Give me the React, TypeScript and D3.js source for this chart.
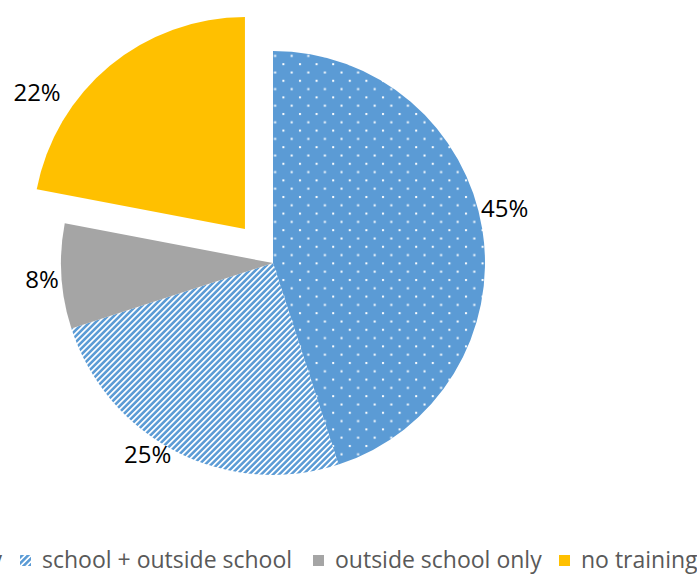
import React from "react";
import * as d3 from "d3";

const categories = ["school only", "school + outside school", "outside school only", "no training"];
const values = [45, 25, 8, 22];
const labels = ["45%", "25%", "8%", "22%"];

const W = 697;
const H = 575;
const CX = 273;
const CY = 263;
const R = 212;
const EXPLODE = [0, 0, 0, 44];
// label placement: angular shift (deg) from slice mid-angle and radius from slice centre
const LABEL_SHIFT = [-4.3, 6.2, -0.4, -17];
const LABEL_R = [238, 229, 231.5, 249];
const LEGEND_X = [-150, 20, 313, 559];

const fills = ["url(#dots)", "url(#stripes)", "#A5A5A5", "#FFC000"];
const BLUE = "#5B9BD5";
const FONT = "'Segoe UI', 'Open Sans', 'Noto Sans', sans-serif";

export default function App() {
  const pie = d3.pie<number>().sort(null).startAngle(0).endAngle(2 * Math.PI).value((d) => d);
  const arcs = pie(values);
  const arc = d3.arc<d3.PieArcDatum<number>>().innerRadius(0).outerRadius(R);

  return (
    <svg width={W} height={H} style={{ position: "absolute", left: 0, top: 0, fontFamily: FONT }}>
      <defs>
        <pattern id="dots" width={16.6} height={16.6} patternUnits="userSpaceOnUse" x={CX} y={CY}>
          <rect width={16.6} height={16.6} fill={BLUE} />
          <rect x={2} y={2} width={2} height={2} fill="#fff" />
          <rect x={10.3} y={10.3} width={2} height={2} fill="#fff" />
        </pattern>
        <pattern id="stripes" width={4.24} height={10} patternUnits="userSpaceOnUse" patternTransform="rotate(45)">
          <rect width={4.24} height={10} fill="#fff" />
          <rect width={2.5} height={10} fill={BLUE} />
        </pattern>
        <pattern id="dotsLeg" width={5} height={5} patternUnits="userSpaceOnUse">
          <rect width={5} height={5} fill={BLUE} />
          <rect x={1} y={1} width={1} height={1} fill="#fff" />
        </pattern>
        <pattern id="stripesLeg" width={4.24} height={10} patternUnits="userSpaceOnUse" patternTransform="rotate(45)">
          <rect width={4.24} height={10} fill="#fff" />
          <rect width={2.6} height={10} fill={BLUE} />
        </pattern>
      </defs>
      {arcs.map((a, i) => {
        const mid = (a.startAngle + a.endAngle) / 2;
        const ox = EXPLODE[i] * Math.sin(mid);
        const oy = -EXPLODE[i] * Math.cos(mid);
        return (
          <path key={i} d={arc(a) || ""} fill={fills[i]} transform={`translate(${CX + ox},${CY + oy})`} />
        );
      })}
      {arcs.map((a, i) => {
        const mid = (a.startAngle + a.endAngle) / 2;
        const ox = EXPLODE[i] * Math.sin(mid);
        const oy = -EXPLODE[i] * Math.cos(mid);
        const la = mid + (LABEL_SHIFT[i] * Math.PI) / 180;
        const x = CX + ox + LABEL_R[i] * Math.sin(la);
        const y = CY + oy - LABEL_R[i] * Math.cos(la);
        return (
          <text key={i} x={x} y={y} dy="0.36em" textAnchor="middle" fontSize={24} fill="#000">
            {labels[i]}
          </text>
        );
      })}
      <g>
        {categories.map((c, i) => {
          const sw = i === 0 ? "url(#dotsLeg)" : i === 1 ? "url(#stripesLeg)" : fills[i];
          if (i === 0) {
            return (
              <g key={c}>
                <rect x={-140} y={555} width={11} height={11} fill={sw} />
                <text x={2} y={568} fontSize={23} fill="#595959" textAnchor="end">
                  {c}
                </text>
              </g>
            );
          }
          const sx = LEGEND_X[i];
          return (
            <g key={c}>
              <rect x={sx} y={555} width={11} height={11} fill={sw} />
              <text x={sx + 22} y={568} fontSize={23} fill="#595959">
                {c}
              </text>
            </g>
          );
        })}
      </g>
    </svg>
  );
}
